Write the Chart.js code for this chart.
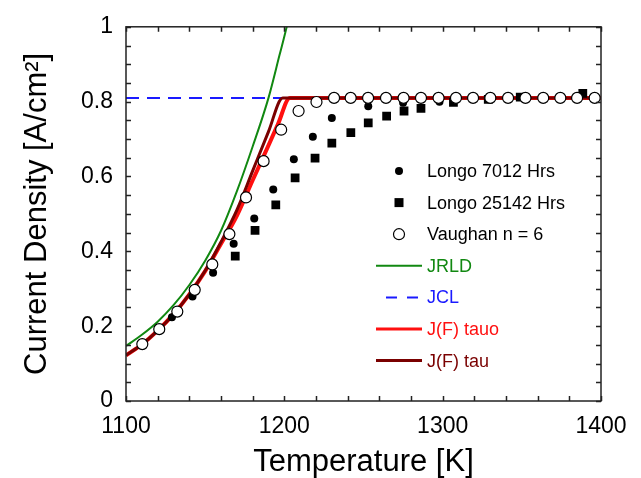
<!DOCTYPE html>
<html>
<head>
<meta charset="utf-8">
<script src="https://cdn.jsdelivr.net/npm/chart.js"></script>
<style>
  body { margin: 0; background: #fff; }
  canvas { display: block; }
</style>
</head>
<body>
<canvas id="chart" width="641" height="478"></canvas>
<script>
const FONT = "'Liberation Sans', Arial, sans-serif";

// Longo 7012 Hrs (filled circles)
const longo7012T = [1129, 1142, 1155, 1168, 1181, 1193, 1206, 1218, 1230, 1253, 1275, 1298];
const longo7012J = [0.224, 0.279, 0.343, 0.42, 0.488, 0.565, 0.646, 0.706, 0.756, 0.788, 0.797, 0.8];

// Longo 25142 Hrs (filled squares)
const longo25142T = [1169, 1181.5, 1194.6, 1206.8, 1219.4, 1230, 1242, 1253, 1264.6, 1275.6, 1286.3, 1306.8, 1328.8, 1349, 1388.5];
const longo25142J = [0.387, 0.456, 0.524, 0.596, 0.649, 0.689, 0.717, 0.743, 0.761, 0.775, 0.782, 0.798, 0.806, 0.812, 0.822];

// Vaughan n = 6 (open circles)
const vaughanT = [1110.3, 1121, 1132.4, 1143.4, 1154.5, 1165.3, 1175.8, 1186.9, 1198, 1209, 1220.3, 1231.4, 1241.9, 1252.9, 1264.2, 1275.3, 1286.3, 1297.4, 1308.4, 1319.2, 1330.1, 1341.3, 1352.3, 1363.5, 1374.3, 1384.9, 1396];
const vaughanJ = [0.152, 0.192, 0.239, 0.297, 0.365, 0.446, 0.544, 0.641, 0.725, 0.775, 0.799, 0.81, 0.81, 0.81, 0.81, 0.81, 0.81, 0.81, 0.81, 0.81, 0.81, 0.81, 0.81, 0.81, 0.81, 0.81, 0.81];

// JRLD curve
const jrldT = [1100, 1110, 1120, 1130, 1140, 1150, 1160, 1170, 1180, 1190, 1197, 1201.5, 1204];
const jrldJ = [0.147, 0.177, 0.212, 0.256, 0.31, 0.375, 0.455, 0.56, 0.68, 0.81, 0.925, 1.0, 1.05];

// JCL (space-charge limit)
const jclT = [1100, 1400];
const jclJ = [0.81, 0.81];

// J(F) tauo
const jfTauoT = [1100, 1110, 1120, 1130, 1140, 1150, 1160, 1170, 1180, 1190, 1196, 1203.5, 1400];
const jfTauoJ = [0.122, 0.151, 0.188, 0.232, 0.285, 0.347, 0.42, 0.495, 0.59, 0.683, 0.74, 0.81, 0.81];

// J(F) tau
const jfTauT = [1100, 1110, 1120, 1130, 1140, 1150, 1160, 1170, 1180, 1190, 1199, 1400];
const jfTauJ = [0.122, 0.151, 0.188, 0.232, 0.285, 0.348, 0.425, 0.51, 0.615, 0.72, 0.81, 0.81];

const pts = (xs, ys) => xs.map((x, i) => ({ x, y: ys[i] }));

const GREEN = '#118811';
const BLUE = '#1a1aff';
const RED = '#ff1010';
const DARKRED = '#7a0000';

const datasets = [
  { label: 'Vaughan n = 6', data: pts(vaughanT, vaughanJ), showLine: false, pointStyle: 'circle',
    pointRadius: 5.5, pointBackgroundColor: '#fff', pointBorderColor: '#000', pointBorderWidth: 1.2 },
  { label: 'Longo 25142 Hrs', data: pts(longo25142T, longo25142J), showLine: false, pointStyle: 'rect',
    pointRadius: 6.2, pointBackgroundColor: '#000', pointBorderColor: '#000', pointBorderWidth: 0 },
  { label: 'Longo 7012 Hrs', data: pts(longo7012T, longo7012J), showLine: false, pointStyle: 'circle',
    pointRadius: 4, pointBackgroundColor: '#000', pointBorderColor: '#000', pointBorderWidth: 0 },
  { label: 'J(F) tau', data: pts(jfTauT, jfTauJ), showLine: true, borderColor: DARKRED, borderWidth: 3, pointRadius: 0,
    cubicInterpolationMode: 'monotone' },
  { label: 'J(F) tauo', data: pts(jfTauoT, jfTauoJ), showLine: true, borderColor: RED, borderWidth: 4, pointRadius: 0,
    cubicInterpolationMode: 'monotone' },
  { label: 'JCL', data: pts(jclT, jclJ), showLine: true, borderColor: BLUE, borderWidth: 2, borderDash: [13, 8], pointRadius: 0 },
  { label: 'JRLD', data: pts(jrldT, jrldJ), showLine: true, borderColor: GREEN, borderWidth: 2, pointRadius: 0,
    cubicInterpolationMode: 'monotone' }
];

const legendOrder = [
  ['Longo 7012 Hrs', '#000'],
  ['Longo 25142 Hrs', '#000'],
  ['Vaughan n = 6', '#000'],
  ['JRLD', GREEN],
  ['JCL', BLUE],
  ['J(F) tauo', RED],
  ['J(F) tau', DARKRED]
];

// frame + inside ticks on all four sides
const framePlugin = {
  id: 'frame',
  afterDatasetsDraw(chart) {
    const { ctx, chartArea: a, scales: { x, y } } = chart;
    ctx.save();
    ctx.strokeStyle = '#222';
    ctx.lineWidth = 1.5;
    ctx.beginPath();
    for (let t = 1100; t <= 1400; t += 20) {
      const px = Math.round(x.getPixelForValue(t)) + 0.5;
      ctx.moveTo(px, a.bottom); ctx.lineTo(px, a.bottom - 5);
      ctx.moveTo(px, a.top); ctx.lineTo(px, a.top + 5);
    }
    for (let k = 0; k <= 20; k++) {
      const py = Math.round(y.getPixelForValue(k * 0.05)) + 0.5;
      ctx.moveTo(a.left, py); ctx.lineTo(a.left + 5, py);
      ctx.moveTo(a.right, py); ctx.lineTo(a.right - 5, py);
    }
    ctx.stroke();
    ctx.strokeRect(a.left, a.top, a.right - a.left, a.bottom - a.top);
    ctx.restore();
  }
};

const legendPlugin = {
  id: 'sideLegend',
  afterDraw(chart) {
    const { ctx } = chart;
    const rowY = 171, step = 31.6, markX = 399, lineX0 = 376, lineX1 = 422, textX = 427;
    ctx.save();
    ctx.font = `18px ${FONT}`;
    ctx.textBaseline = 'middle';
    legendOrder.forEach(([name, color], i) => {
      const ds = chart.data.datasets.find((d) => d.label === name);
      const yy = rowY + i * step;
      if (ds.showLine === false) {
        ctx.fillStyle = ds.pointBackgroundColor;
        ctx.strokeStyle = ds.pointBorderColor;
        ctx.lineWidth = ds.pointBorderWidth;
        ctx.beginPath();
        if (ds.pointStyle === 'rect') {
          ctx.rect(markX - 4.5, yy - 4.5, 9, 9);
          ctx.fill();
        } else {
          ctx.arc(markX, yy, ds.pointRadius, 0, Math.PI * 2);
          ctx.fill();
          if (ds.pointBorderWidth) ctx.stroke();
        }
      } else {
        ctx.strokeStyle = ds.borderColor;
        ctx.lineWidth = Math.min(ds.borderWidth, 3);
        ctx.beginPath();
        if (ds.borderDash) {
          ctx.setLineDash([11, 10]);
          ctx.moveTo(386, yy); ctx.lineTo(lineX1, yy);
        } else {
          ctx.moveTo(lineX0, yy); ctx.lineTo(lineX1, yy);
        }
        ctx.stroke();
        ctx.setLineDash([]);
      }
      ctx.fillStyle = color;
      ctx.fillText(name, textX, yy + 1);
    });
    ctx.restore();
  }
};

new Chart(document.getElementById('chart'), {
  type: 'scatter',
  data: { datasets },
  options: {
    responsive: false,
    animation: false,
    layout: { padding: { left: 0, right: 40, top: 22, bottom: 0 } },
    plugins: { legend: { display: false }, tooltip: { enabled: false } },
    scales: {
      x: {
        type: 'linear', min: 1100, max: 1400,
        afterFit: (s) => { s.height = 77; },
        grid: { display: false, drawTicks: false },
        border: { display: false },
        ticks: { stepSize: 100, padding: 12, color: '#000', font: { family: FONT, size: 23 },
          callback: (v) => String(v) },
        title: { display: true, text: 'Temperature [K]', color: '#000', padding: { bottom: 0 },
          font: { family: FONT, size: 31, lineHeight: 1 } }
      },
      y: {
        type: 'linear', min: 0, max: 1,
        afterFit: (s) => { s.width = 126; },
        grid: { display: false, drawTicks: false },
        border: { display: false },
        ticks: { stepSize: 0.2, padding: 13, color: '#000', font: { family: FONT, size: 23 },
          callback: (v) => String(Math.round(v * 10) / 10) },
        title: { display: true, text: 'Current Density [A/cm²]', color: '#000', padding: { top: 22 },
          font: { family: FONT, size: 31, lineHeight: 1 } }
      }
    }
  },
  plugins: [framePlugin, legendPlugin]
});
</script>
</body>
</html>
